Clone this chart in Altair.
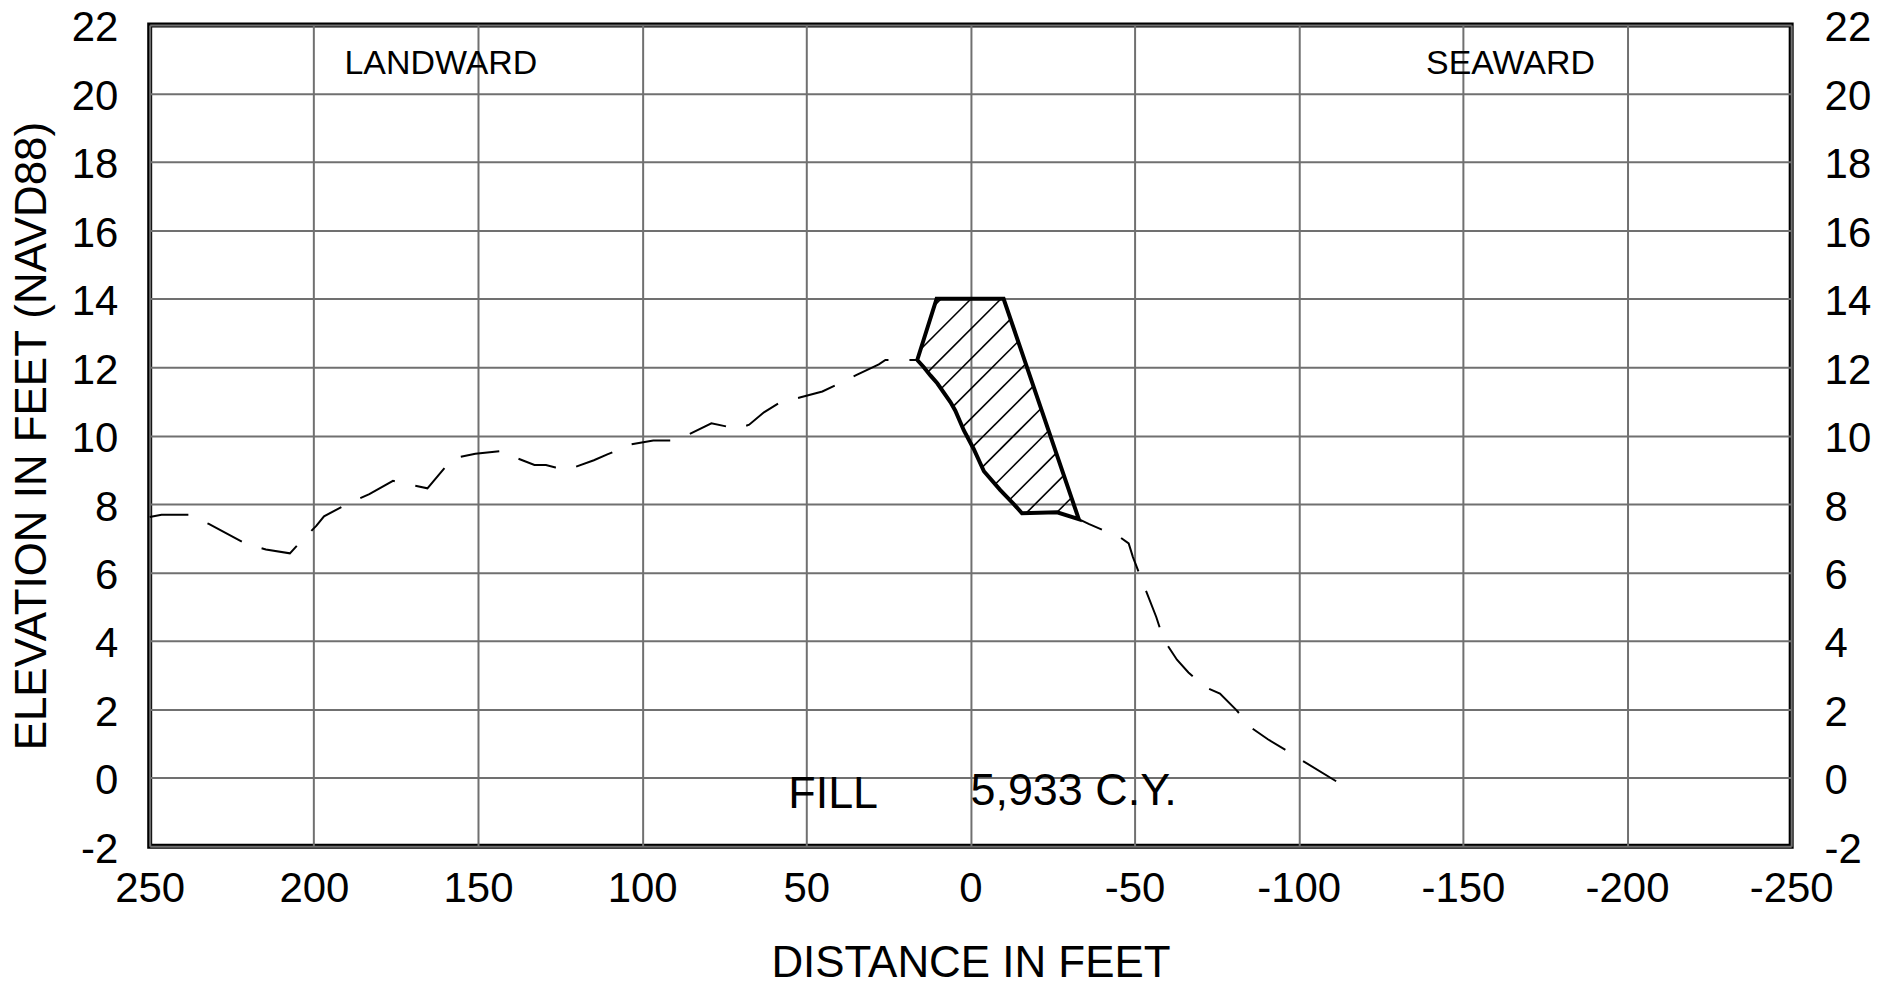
import altair as alt
import pandas as pd

# ---------------- data ----------------
# existing ground profile (distance in feet, elevation in feet NAVD88)
profile_x = [250, 246.4, 238.2, 232.0, 220.7, 214.6, 207.3, 204.2, 199.2, 196.9,
             189.9, 183.1, 175.9, 172.1, 165.4, 157.8, 150.8, 142.7, 138.6, 132.8,
             129.3, 126.4, 122.3, 120.5, 114.7, 110.6, 103.6, 96.6, 90.2, 85.5,
             78.9, 71.0, 67.4, 62.9, 57.8, 54.8, 51.7, 45.1, 34.5, 27.9,
             25.9, 16.2, 14.2, 12.2, 10.1, 6.1, 4.6, 2.0, -1.0, -4.1,
             -9.1, -13.2, -15.7, -26.4, -33.0, -36.0, -41.6, -45.6, -48.2, -49.5,
             -52.2, -56.6, -58.8, -62.9, -66.4, -71.5, -76.0, -81.1, -85.6, -90.7,
             -95.7, -101.3, -111.4]
profile_y = [7.62, 7.69, 7.69, 7.42, 6.84, 6.67, 6.56, 6.88, 7.37, 7.64,
             8.00, 8.29, 8.68, 8.60, 8.46, 9.33, 9.47, 9.55, 9.36, 9.14,
             9.14, 9.07, 9.01, 9.08, 9.28, 9.45, 9.74, 9.86, 9.86, 10.05,
             10.36, 10.20, 10.32, 10.68, 10.98, 11.04, 11.12, 11.29, 11.78, 12.08,
             12.21, 12.21, 12.00, 11.76, 11.53, 10.98, 10.73, 10.15, 9.61, 8.96,
             8.41, 8.00, 7.73, 7.76, 7.56, 7.42, 7.19, 7.03, 6.85, 6.45,
             5.78, 4.70, 4.05, 3.45, 3.08, 2.65, 2.46, 1.97, 1.46, 1.12,
             0.83, 0.49, -0.10]

# fill template polygon (closed)
fill_x = [16.2, 10.3, -10.1, -33.0, -26.4, -15.7, -13.2, -9.1, -4.1, -1.0,
          2.0, 4.6, 6.1, 10.1, 12.2, 14.2, 16.2]
fill_y = [12.21, 14.0, 14.0, 7.56, 7.76, 7.73, 8.00, 8.41, 8.96, 9.61,
          10.15, 10.73, 10.98, 11.53, 11.76, 12.00, 12.21]

x_ticks = [250, 200, 150, 100, 50, 0, -50, -100, -150, -200, -250]
y_ticks = [-2, 0, 2, 4, 6, 8, 10, 12, 14, 16, 18, 20, 22]

region_labels = ["LANDWARD", "SEAWARD"]
region_x = [161.3, -164.5]
region_y = [20.56, 20.56]

fill_labels = ["FILL", "5,933 C.Y."]
fill_label_x = [55.5, 0.0]
fill_label_y = [-0.87, -0.80]

# ---------------- layout / style ----------------
W, H = 1645, 823
X_DOM = [250, -250]
Y_DOM = [-2, 22]
FONT = "Liberation Sans"

# hatch lines at 45 degrees on screen, clipped to the fill polygon
m = (W / abs(X_DOM[1] - X_DOM[0])) / (H / (Y_DOM[1] - Y_DOM[0]))
HATCH_STEP = 30.0 / (H / (Y_DOM[1] - Y_DOM[0]))
HATCH_B0 = 12.23
hatch_rows = []
seg_id = 0
for k in range(-12, 8):
    b = HATCH_B0 + HATCH_STEP * k
    pts = []
    for i in range(len(fill_x) - 1):
        x1, y1, x2, y2 = fill_x[i], fill_y[i], fill_x[i + 1], fill_y[i + 1]
        f1 = y1 + m * x1 - b
        f2 = y2 + m * x2 - b
        if (f1 > 0) != (f2 > 0):
            t = f1 / (f1 - f2)
            xi = x1 + t * (x2 - x1)
            pts.append((xi, b - m * xi))
    pts.sort()
    for j in range(0, len(pts) - 1, 2):
        for p in (pts[j], pts[j + 1]):
            hatch_rows.append({"x": p[0], "y": p[1], "seg": seg_id})
        seg_id += 1

profile_df = pd.DataFrame({"x": profile_x, "y": profile_y, "i": range(len(profile_x))})
fill_df = pd.DataFrame({"x": fill_x, "y": fill_y, "i": range(len(fill_x))})
hatch_df = pd.DataFrame(hatch_rows)
region_df = pd.DataFrame({"x": region_x, "y": region_y, "t": region_labels})
fill_lab_df = pd.DataFrame({"x": fill_label_x, "y": fill_label_y, "t": fill_labels})

xs = alt.Scale(domain=X_DOM, nice=False, zero=False)
ys = alt.Scale(domain=Y_DOM, nice=False, zero=False)

LABEL_EXPR = "'' + datum.value"

x_axis = alt.Axis(values=x_ticks, title="DISTANCE IN FEET", grid=True, ticks=False,
                  domain=False, labelPadding=22, labelFlush=False, labelOverlap=False,
                  labelFontSize=42, labelExpr=LABEL_EXPR,
                  titleFontSize=44, titleFontWeight="normal",
                  titleX=W / 2, titleY=131, titleBaseline="alphabetic",
                  gridColor="#707070", gridWidth=2, gridOpacity=1)
y_axis_left = alt.Axis(values=y_ticks, title="ELEVATION IN FEET (NAVD88)", grid=True,
                       ticks=False, domain=False, labelPadding=32, labelFlush=False,
                       labelOverlap=False, labelFontSize=42, labelExpr=LABEL_EXPR,
                       labelOffset=3,
                       titleFontSize=44,
                       titleFontWeight="normal", titleX=-117, titleY=H / 2,
                       titleBaseline="middle", titleAngle=270,
                       gridColor="#707070", gridWidth=2, gridOpacity=1)
y_axis_right = alt.Axis(values=y_ticks, orient="right", title=None, grid=False,
                        ticks=False, domain=False, labelPadding=33, labelFlush=False,
                        labelOverlap=False, labelFontSize=42, labelExpr=LABEL_EXPR,
                        labelOffset=3)

X = alt.X("x:Q", scale=xs, axis=x_axis)

profile = alt.Chart(profile_df).mark_line(
    color="black", strokeWidth=2, strokeDash=[39, 21]
).encode(
    x=X,
    y=alt.Y("y:Q", scale=ys, axis=y_axis_left),
    order="i:Q",
)

polygon = alt.Chart(fill_df).mark_line(
    color="black", strokeWidth=4, strokeJoin="miter"
).encode(
    x=X,
    y=alt.Y("y:Q", scale=ys, axis=None),
    order="i:Q",
)

hatch = alt.Chart(hatch_df).mark_line(color="black", strokeWidth=1.6).encode(
    x=X,
    y=alt.Y("y:Q", scale=ys, axis=None),
    detail="seg:N",
)

regions = alt.Chart(region_df).mark_text(
    font=FONT, fontSize=34, align="center", baseline="alphabetic", color="black"
).encode(
    x=X,
    y=alt.Y("y:Q", scale=ys, axis=None),
    text="t:N",
)

fill_text = alt.Chart(fill_lab_df).mark_text(
    font=FONT, fontSize=45, align="left", baseline="alphabetic", color="black"
).encode(
    x=X,
    y=alt.Y("y:Q", scale=ys, axis=None),
    text="t:N",
)

right_axis = alt.Chart(profile_df).mark_line(strokeOpacity=0).encode(
    x=X,
    y=alt.Y("y:Q", scale=ys, axis=y_axis_right),
    order="i:Q",
)

chart = alt.layer(
    profile, hatch, polygon, regions, fill_text, right_axis
).resolve_axis(y="independent").properties(
    width=W, height=H,
    autosize=alt.AutoSizeParams(type="none"),
    padding={"left": 142, "top": 16, "right": 84, "bottom": 132},
    background="white",
).configure_view(
    stroke="black", strokeWidth=5
).configure_axis(
    labelFont=FONT, titleFont=FONT, labelColor="black", titleColor="black"
)

chart.save("out.html", embed_options={"renderer": "svg", "actions": False})
